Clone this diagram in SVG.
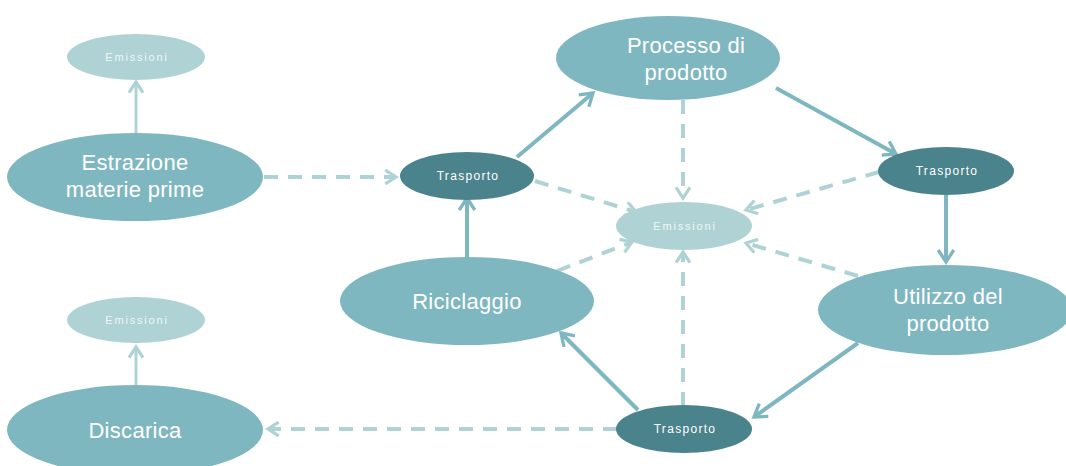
<svg xmlns="http://www.w3.org/2000/svg" width="1066" height="466" viewBox="0 0 1066 466">
<style>
.main{fill:#7fb7c0}
.dark{fill:#4b838c}
.light{fill:#afd3d5}
.big{font-family:"Liberation Sans",Arial,sans-serif;font-size:22px;fill:#ffffff;text-anchor:middle;letter-spacing:0.3px}
.small{font-family:"Liberation Sans",Arial,sans-serif;font-size:12px;fill:#ffffff;text-anchor:middle;letter-spacing:1.3px}
.tiny{font-family:"Liberation Sans",Arial,sans-serif;font-size:11px;fill:#eef6f7;text-anchor:middle;letter-spacing:1.8px}
.solid{stroke:#7fb7c0;stroke-width:4;fill:none;marker-end:url(#ah)}
.thin{stroke:#afd3d5;stroke-width:3;fill:none;marker-end:url(#al)}
.dash{stroke:#afd3d5;stroke-width:4;fill:none;stroke-dasharray:14 10;marker-end:url(#al)}
</style>
<defs>
<marker id="ah" viewBox="0 0 12 12" refX="10" refY="6" markerWidth="18" markerHeight="18" markerUnits="userSpaceOnUse" orient="auto">
<path d="M2,0.8 L10,6 L2,11.2" fill="none" stroke="#7fb7c0" stroke-width="2.2"/>
</marker>
<marker id="al" viewBox="0 0 12 12" refX="10" refY="6" markerWidth="16" markerHeight="16" markerUnits="userSpaceOnUse" orient="auto">
<path d="M2,0.8 L10,6 L2,11.2" fill="none" stroke="#afd3d5" stroke-width="2.4"/>
</marker>
</defs>
<g id="connectors">
<path class="thin" d="M136,133 L136,82"/>
<path class="thin" d="M136,385 L136,347"/>
<path class="dash" d="M264,177 L396,177"/>
<path class="dash" d="M617,429 L268,429"/>
<path class="dash" d="M683,100 L683,198"/>
<path class="dash" d="M535,181 L636,212"/>
<path class="dash" d="M879,172 L746,210"/>
<path class="dash" d="M858,276 L746,243"/>
<path class="dash" d="M557,271 L632,242"/>
<path class="dash" d="M683,406 L683,252"/>
<path class="solid" d="M517,157 L593,93"/>
<path class="solid" d="M776,88 L896,154"/>
<path class="solid" d="M946,195 L946,262"/>
<path class="solid" d="M858,343 L754,417"/>
<path class="solid" d="M638,410 L561,333"/>
<path class="solid" d="M467,258 L467,198"/>
</g>
<g id="emissioni-tl"><ellipse class="light" cx="136" cy="57" rx="69" ry="23"/><text class="tiny" x="137" y="61">Emissioni</text></g>
<g id="estrazione"><ellipse class="main" cx="135" cy="177" rx="128" ry="44"/><text class="big" x="135" y="170">Estrazione</text><text class="big" x="135" y="197">materie prime</text></g>
<g id="trasporto-l"><ellipse class="dark" cx="467" cy="176" rx="67" ry="24"/><text class="small" x="468" y="180">Trasporto</text></g>
<g id="processo"><ellipse class="main" cx="668" cy="58" rx="112" ry="42"/><text class="big" x="686" y="53">Processo di</text><text class="big" x="686" y="80">prodotto</text></g>
<g id="emissioni-c"><ellipse class="light" cx="684" cy="226" rx="68" ry="24"/><text class="tiny" x="685" y="230">Emissioni</text></g>
<g id="trasporto-r"><ellipse class="dark" cx="946" cy="171" rx="68" ry="24"/><text class="small" x="947" y="175">Trasporto</text></g>
<g id="utilizzo"><ellipse class="main" cx="945" cy="310" rx="127" ry="45"/><text class="big" x="948" y="304">Utilizzo del</text><text class="big" x="948" y="331">prodotto</text></g>
<g id="riciclaggio"><ellipse class="main" cx="467" cy="301" rx="127" ry="44"/><text class="big" x="467" y="309">Riciclaggio</text></g>
<g id="emissioni-bl"><ellipse class="light" cx="136" cy="320" rx="69" ry="23"/><text class="tiny" x="137" y="324">Emissioni</text></g>
<g id="discarica"><ellipse class="main" cx="135" cy="430" rx="128" ry="45"/><text class="big" x="135" y="438">Discarica</text></g>
<g id="trasporto-b"><ellipse class="dark" cx="684" cy="429" rx="68" ry="24"/><text class="small" x="685" y="433">Trasporto</text></g>
</svg>
